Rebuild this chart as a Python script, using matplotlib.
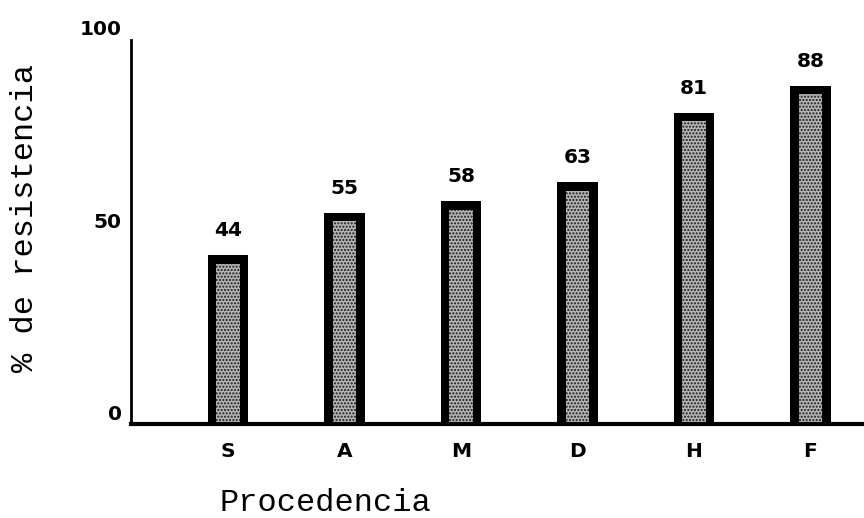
import matplotlib.pyplot as plt
import matplotlib.transforms as mtransforms

# datos
procedencia = ['S', 'A', 'M', 'D', 'H', 'F']
resistencia = [44, 55, 58, 63, 81, 88]
yticks = [0, 50, 100]

fig = plt.figure(figsize=(8.64, 5.18), dpi=100)
ax = fig.add_axes([0.152, 0.181, 0.848, 0.742])

x = range(len(procedencia))

# barra negra exterior + relleno punteado gris
ax.bar(x, resistencia, width=0.35, color='black', zorder=2)
inner = [v - 2.2 for v in resistencia]
ax.bar(x, inner, width=0.2, color='#b4b4b4', edgecolor='#1a1a1a',
       linewidth=0, hatch='.....', zorder=3)

for xi, v in zip(x, resistencia):
    ax.annotate(str(v), (xi, v), xytext=(0, 11), textcoords='offset points',
                ha='center', va='bottom', fontsize=14.5, fontweight='heavy')

ax.set_xlim(-0.83, 5.46)
ax.set_ylim(0, 100)
ax.set_xticks(list(x))
ax.set_xticklabels(procedencia, fontsize=14.5, fontweight='heavy')
ax.set_yticks(yticks)
ax.set_yticklabels([str(t) for t in yticks], fontsize=14.5, fontweight='heavy')
ax.tick_params(axis='both', length=0)
ax.tick_params(axis='x', pad=13)
ax.tick_params(axis='y', pad=7)

# las etiquetas del eje y estan un poco mas arriba
off = mtransforms.ScaledTranslation(0, 12/100, fig.dpi_scale_trans)
for lab in ax.get_yticklabels():
    lab.set_transform(lab.get_transform() + off)

ax.spines['top'].set_visible(False)
ax.spines['right'].set_visible(False)
ax.spines['left'].set_linewidth(2)
ax.spines['bottom'].set_linewidth(3)
ax.spines['bottom'].set_zorder(5)

ax.set_xlabel('Procedencia', fontsize=23, family='Liberation Mono', va='baseline')
ax.xaxis.set_label_coords(0.265, -0.225)
ax.set_ylabel('% de resistencia', fontsize=23, family='Liberation Mono')
ax.yaxis.set_label_coords(-0.125, 0.536)

fig.savefig('out.png', dpi=100)
